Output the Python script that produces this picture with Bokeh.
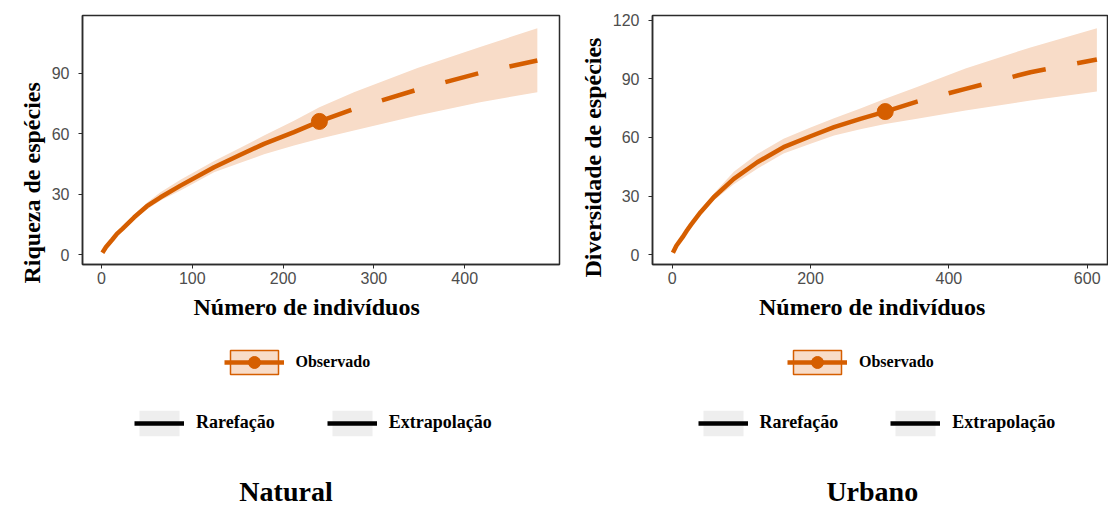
from bokeh.plotting import figure
from bokeh.layouts import row, column
from bokeh.models import Range1d, FixedTicker, Legend, LegendItem, Title, Label
from bokeh.embed import file_html
from bokeh.resources import INLINE

# ---------------- data ----------------
panel_titles = ["Natural", "Urbano"]
y_titles = ["Riqueza de espécies", "Diversidade de espécies"]
x_title = "Número de indivíduos"
legend_observed = "Observado"
legend_methods = ["Rarefação", "Extrapolação"]

# Natural
nat_rar_x = [1, 5, 12, 17, 23, 36, 50, 65, 87, 124, 153, 179, 212, 240]
nat_rar_y = [1, 3.9, 7.6, 10.4, 12.9, 18.6, 24.1, 28.5, 34.3, 43.4, 49.6, 55.0, 60.8, 66.1]
nat_rar_lo = [1, 3.8, 7.3, 10.0, 12.3, 17.6, 22.5, 26.9, 31.9, 40.9, 45.6, 49.8, 54.2, 57.5]
nat_rar_hi = [1, 4.0, 7.9, 10.8, 13.5, 19.7, 25.8, 31.0, 37.2, 46.5, 53.0, 59.1, 66.5, 73.1]
nat_ext_x = [240, 278, 348, 417, 480]
nat_ext_y = [66.1, 72.3, 81.9, 90.2, 96.3]
nat_ext_lo = [57.5, 61.6, 69.0, 75.6, 80.6]
nat_ext_hi = [73.1, 80.6, 92.6, 103.0, 112.3]
nat_obs = (240, 66.1)
nat_xticks = [0, 100, 200, 300, 400]
nat_yticks = [0, 30, 60, 90]

# Urbano
urb_rar_x = [1, 6, 15, 21, 27, 41, 60, 89, 123, 161, 200, 234, 272, 308]
urb_rar_y = [1, 4.6, 9.0, 12.3, 15.3, 21.8, 29.4, 38.8, 47.3, 55.0, 60.6, 65.2, 69.5, 73.2]
urb_rar_lo = [1, 4.5, 8.7, 11.9, 14.7, 20.4, 27.7, 36.0, 44.0, 51.8, 56.8, 61.0, 64.2, 66.9]
urb_rar_hi = [1, 4.7, 9.3, 12.7, 15.9, 23.2, 31.2, 42.5, 51.5, 59.3, 65.0, 69.8, 74.8, 79.7]
urb_ext_x = [308, 354, 424, 518, 614]
urb_ext_y = [73.2, 78.3, 84.8, 93.3, 99.8]
urb_ext_lo = [66.9, 69.5, 73.7, 78.8, 83.4]
urb_ext_hi = [79.7, 85.8, 95.2, 106.0, 115.8]
urb_obs = (308, 73.2)
urb_xticks = [0, 200, 400, 600]
urb_yticks = [0, 30, 60, 90, 120]

# ---------------- style ----------------
ORANGE = "#D55E00"
PEACH = "#F8DCC8"
GREY_KEY = "#EEEEEE"
FRAME = "#2b2b2b"
SERIF = "Liberation Serif"
SANS = "Liberation Sans"
TOP_H = 333
BOT_H = 174
FRAME_TOP = 15
FRAME_H = 249
NAN = float("nan")


def make_plot(width, bl, br, xr, yr, xticks, yticks,
              rx, ry, rlo, rhi, ex, ey, elo, ehi, obs, ytitle, pos):
    p = figure(width=width, height=TOP_H, x_range=Range1d(*xr), y_range=Range1d(*yr),
               output_backend="svg", toolbar_location=None,
               min_border_left=bl, min_border_right=br,
               min_border_top=FRAME_TOP, min_border_bottom=TOP_H - FRAME_TOP - FRAME_H)
    p.grid.visible = False
    p.outline_line_color = FRAME
    p.outline_line_width = 1.5
    for ax, ticks in ((p.xaxis[0], xticks), (p.yaxis[0], yticks)):
        ax.ticker = FixedTicker(ticks=ticks)
        ax.axis_line_color = FRAME
        ax.axis_line_width = 1.5
        ax.major_tick_out = 4
        ax.major_tick_in = 0
        ax.major_tick_line_color = FRAME
        ax.minor_tick_line_color = None
        ax.major_label_text_font = SANS
        ax.major_label_text_font_size = "16px"
        ax.major_label_text_color = "#4D4D4D"
    p.xaxis.major_label_standoff = 3
    p.yaxis.major_label_standoff = 9

    bx = rx + ex[1:]
    blo = rlo + elo[1:]
    bhi = rhi + ehi[1:]
    p.varea(x=bx, y1=blo, y2=bhi, fill_color=PEACH, fill_alpha=1.0)
    p.line(rx, ry, line_color=ORANGE, line_width=4.5, line_join="round")
    p.line(ex, ey, line_color=ORANGE, line_width=4.5, line_dash="34 32")
    p.scatter([obs[0]], [obs[1]], size=16, color=ORANGE)

    p.add_layout(Title(text=ytitle, align="left", offset=pos["yt_off"], standoff=8,
                       text_font=SERIF, text_font_style="bold", text_font_size="24px",
                       text_color="black"), "left")
    p.add_layout(Title(text=x_title, align="left", offset=pos["xt_off"], standoff=10,
                       text_font=SERIF, text_font_style="bold", text_font_size="24px",
                       text_color="black"), "below")
    return p


def make_footer(width, title, pos):
    f = figure(width=width, height=BOT_H, x_range=Range1d(0, width),
               y_range=Range1d(0, BOT_H), x_axis_type=None, y_axis_type=None,
               output_backend="svg", toolbar_location=None, min_border=0)
    f.grid.visible = False
    f.outline_line_color = None

    # legend key helpers: one NaN row each so they draw nothing in the frame
    key_box = f.rect(x=[NAN], y=[NAN], width=1, height=1, fill_color=PEACH,
                     line_color=ORANGE, line_width=1.5)
    key_line = f.line(x=[NAN], y=[NAN], line_color=ORANGE, line_width=4.5)
    key_pt = f.scatter(x=[NAN], y=[NAN], color=ORANGE)
    grey_box = f.rect(x=[NAN], y=[NAN], width=1, height=1, fill_color=GREY_KEY, line_color=None)
    black_line = f.line(x=[NAN], y=[NAN], line_color="black", line_width=4.5)

    lg1 = Legend(items=[LegendItem(label=legend_observed, renderers=[key_box, key_line, key_pt])],
                 location=(pos["obs_x"], 130.5), glyph_width=60, glyph_height=30,
                 label_standoff=12, padding=0, margin=0, border_line_color=None,
                 background_fill_alpha=0, label_text_font=SERIF,
                 label_text_font_style="bold", label_text_font_size="16px",
                 label_text_color="black")
    lg2 = Legend(items=[LegendItem(label=legend_methods[0], renderers=[grey_box, black_line]),
                        LegendItem(label=legend_methods[1], renderers=[grey_box, black_line])],
                 location=(pos["met_x"], 68.5), orientation="horizontal",
                 glyph_width=50, glyph_height=32, spacing=52,
                 label_standoff=12, padding=0, margin=0, border_line_color=None,
                 background_fill_alpha=0, label_text_font=SERIF,
                 label_text_font_style="bold", label_text_font_size="18px",
                 label_text_color="black")
    f.add_layout(lg1, "center")
    f.add_layout(lg2, "center")
    f.add_layout(Label(x=pos["t_x"], y=16, text=title, text_align="center",
                       text_baseline="middle", text_font=SERIF,
                       text_font_style="bold", text_font_size="28px", text_color="black"))
    return f


top_left = make_plot(568, 82, 9, (-20.9, 504.4), (-4.8, 118.6), nat_xticks, nat_yticks,
                     nat_rar_x, nat_rar_y, nat_rar_lo, nat_rar_hi,
                     nat_ext_x, nat_ext_y, nat_ext_lo, nat_ext_hi, nat_obs,
                     y_titles[0], dict(xt_off=111, yt_off=-19))
top_right = make_plot(540, 84, 0, (-28.5, 630.8), (-4.96, 122.3), urb_xticks, urb_yticks,
                      urb_rar_x, urb_rar_y, urb_rar_lo, urb_rar_hi,
                      urb_ext_x, urb_ext_y, urb_ext_lo, urb_ext_hi, urb_obs,
                      y_titles[1], dict(xt_off=106.5, yt_off=-13))

bot_left = make_footer(568, panel_titles[0], dict(obs_x=223.5, met_x=134, t_x=285.5))
bot_right = make_footer(540, panel_titles[1], dict(obs_x=219, met_x=129.5, t_x=303.8))

layout = column(row(top_left, top_right), row(bot_left, bot_right))
open("out.html", "w").write(file_html(layout, INLINE))
